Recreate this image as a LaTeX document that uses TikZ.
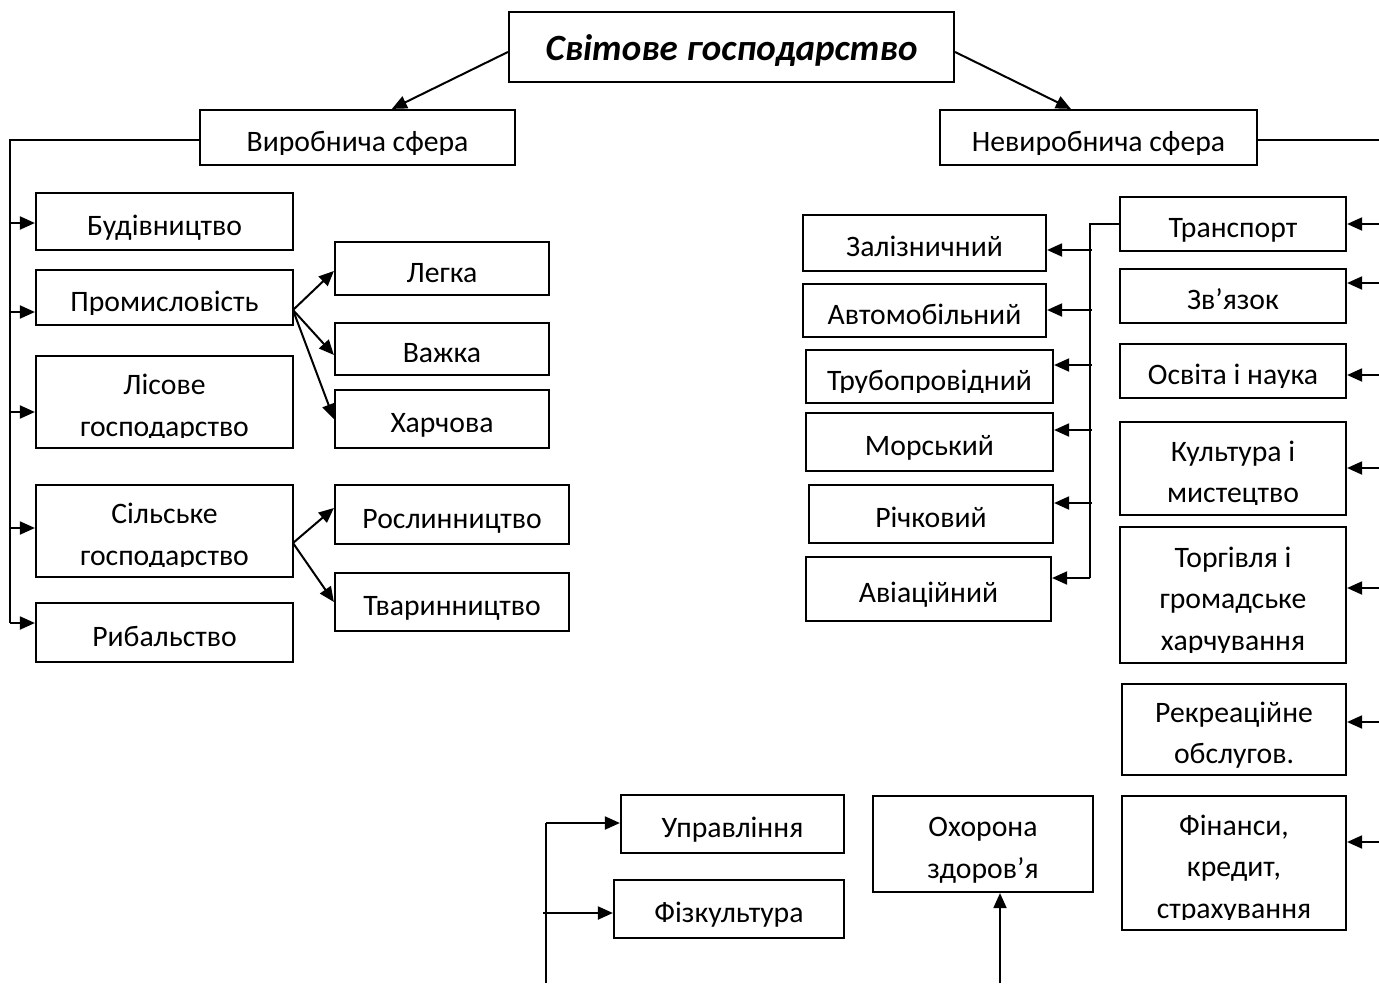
\documentclass[tikz,border=0pt]{standalone}
\usepackage{fontspec}
\setmainfont{Carlito}
\usetikzlibrary{arrows.meta,calc}
\tikzset{
  cutinset/.store in=\cutinset, cutinset=11pt,
  box/.style={draw, line width=2.2pt, inner sep=0pt},
  txt/.style={font=\fontsize{29.7}{41.5}\selectfont, inner sep=0pt, anchor=base},
  ttxt/.style={font=\fontsize{37}{40}\selectfont\bfseries\itshape, inner sep=0pt, anchor=base},
  tb/.style n args={2}{path picture={
      \clip (path picture bounding box.north west) rectangle ([yshift=\cutinset]path picture bounding box.south east);
      \node[txt] at ($(path picture bounding box.center)+(0,{13.5-(#1-1)*20.75})$) {\begin{tabular}[t]{@{}c@{}}#2\end{tabular}};}},
  ttb/.style={path picture={\node[ttxt] at ($(path picture bounding box.center)+(0,13)$) {#1};}},
  arr/.style={line width=2pt, -{Triangle[length=15pt,width=13pt]}},
  bus/.style={line width=1.2pt},
}
\begin{document}
\begin{tikzpicture}[x=1pt,y=-1pt]
\fill[white] (0,0) rectangle (1379,983);
\useasboundingbox (0,0) rectangle (1379,983);

% top
\node[box, ttb={Світове господарство}, minimum width=445pt, minimum height=70pt] (title) at (731.5,47) {};
\node[box, tb={1}{Виробнича сфера}, minimum width=315pt, minimum height=55pt] (vyr) at (357.5,137.5) {};
\node[box, tb={1}{Невиробнича сфера}, minimum width=317pt, minimum height=55pt] (nevyr) at (1098.5,137.5) {};

% left column
\node[box, tb={1}{Будівництво}, minimum width=257pt, minimum height=57pt] (bud) at (164.5,221.5) {};
\node[box, tb={1}{Промисловість}, minimum width=257pt, minimum height=55pt] (prom) at (164.5,297.5) {};
\node[box, tb={2}{Лісове\\господарство}, minimum width=257pt, minimum height=92pt] (lis) at (164.5,402) {};
\node[box, tb={2}{Сільське\\господарство}, minimum width=257pt, minimum height=92pt] (sil) at (164.5,531) {};
\node[box, tb={1}{Рибальство}, minimum width=257pt, minimum height=59pt] (ryb) at (164.5,632.5) {};

\node[box, tb={1}{Легка}, minimum width=214pt, minimum height=53pt] (legka) at (442,268.5) {};
\node[box, tb={1}{Важка}, minimum width=214pt, minimum height=52pt] (vazhka) at (442,349) {};
\node[box, tb={1}{Харчова}, minimum width=214pt, minimum height=58pt] (kharch) at (442,419) {};
\node[box, tb={1}{Рослинництво}, minimum width=234pt, minimum height=59pt] (rosl) at (452,514.5) {};
\node[box, tb={1}{Тваринництво}, minimum width=234pt, minimum height=58pt] (tvar) at (452,602) {};

% right column
\node[box, tb={1}{Транспорт}, cutinset=8pt, minimum width=226pt, minimum height=54pt] (transp) at (1233,224) {};
\node[box, tb={1}{Зв’язок}, minimum width=226pt, minimum height=54pt] (zvyaz) at (1233,296) {};
\node[box, tb={1}{Освіта і наука}, minimum width=226pt, minimum height=54pt] (osvita) at (1233,371) {};
\node[box, tb={2}{Культура і\\мистецтво}, minimum width=226pt, minimum height=93pt] (kult) at (1233,468.5) {};
\node[box, tb={3}{Торгівля і\\громадське\\харчування}, minimum width=226pt, minimum height=136pt] (torg) at (1233,595) {};
\node[box, tb={2}{Рекреаційне\\обслугов.}, cutinset=0pt, minimum width=224pt, minimum height=91pt] (rekr) at (1234,729.5) {};
\node[box, tb={3}{Фінанси,\\кредит,\\страхування}, minimum width=224pt, minimum height=134pt] (fin) at (1234,863) {};

% transport types
\node[box, tb={1}{Залізничний}, minimum width=243pt, minimum height=56pt] (zaliz) at (924.5,243) {};
\node[box, tb={1}{Автомобільний}, minimum width=243pt, minimum height=53pt] (avto) at (924.5,310.5) {};
\node[box, tb={1}{Трубопровідний}, minimum width=247pt, minimum height=53pt] (trub) at (929.5,376.5) {};
\node[box, tb={1}{Морський}, minimum width=247pt, minimum height=58pt] (morsk) at (929.5,442) {};
\node[box, tb={1}{Річковий}, minimum width=244pt, minimum height=58pt] (richk) at (931,514) {};
\node[box, tb={1}{Авіаційний}, minimum width=245pt, minimum height=64pt] (avia) at (928.5,589) {};

% bottom
\node[box, tb={1}{Управління}, minimum width=223pt, minimum height=58pt] (uprav) at (732.5,824) {};
\node[box, tb={1}{Фізкультура}, minimum width=230pt, minimum height=58pt] (fizk) at (729,909) {};
\node[box, tb={2}{Охорона\\здоров’я}, cutinset=0pt, minimum width=220pt, minimum height=96pt] (okhor) at (983,844) {};

% top arrows
\draw[arr] ([yshift=-5pt]title.west) -- ([xshift=193pt]vyr.north west);
\draw[arr] ([yshift=-5pt]title.east) -- ([xshift=132pt]nevyr.north west);

% left bus
\coordinate (ltop) at (10,140);
\coordinate (lbot) at (10,623);
\draw[bus] (vyr.west |- ltop) -- (ltop) -- (lbot);
\draw[arr] (10,223) -- (bud.west |- 0,223);
\draw[arr] (10,312) -- (prom.west |- 0,312);
\draw[arr] (10,412) -- (lis.west |- 0,412);
\draw[arr] (10,528) -- (sil.west |- 0,528);
\draw[arr] (lbot) -- (ryb.west |- lbot);

% branches
\coordinate (ps) at (293,310);
\draw[arr] (ps) -- (legka.west |- 0,271);
\draw[arr] (ps) -- (vazhka.west |- 0,355);
\draw[arr] (ps) -- (kharch.west);
\coordinate (ss) at (293,543);
\draw[arr] (ss) -- (rosl.west |- 0,508);
\draw[arr] (ss) -- (tvar.west);

% right bus
\coordinate (rtop) at (1379,140);
\draw[bus] (nevyr.east |- rtop) -- (rtop);
\draw[arr] (1379,224) -- (transp.east |- 0,224);
\draw[arr] (1379,283) -- (zvyaz.east |- 0,283);
\draw[arr] (1379,375) -- (osvita.east |- 0,375);
\draw[arr] (1379,468) -- (kult.east |- 0,468);
\draw[arr] (1379,588) -- (torg.east |- 0,588);
\draw[arr] (1379,722) -- (rekr.east |- 0,722);
\draw[arr] (1379,842) -- (fin.east |- 0,842);

% transport bus
\coordinate (ttop) at (1090,224);
\coordinate (tbot) at (1090,578);
\draw[bus] (transp.west) -- (ttop) -- (tbot);
\draw[arr] (1092,250) -- (zaliz.east |- 0,250);
\draw[arr] (1092,310) -- (avto.east |- 0,310);
\draw[arr] (1092,365) -- (trub.east |- 0,365);
\draw[arr] (1092,430) -- (morsk.east |- 0,430);
\draw[arr] (1092,503) -- (richk.east |- 0,503);
\draw[arr] (tbot) -- (avia.east |- tbot);

% bottom bus
\coordinate (bbot) at (546,983);
\coordinate (btop) at (546,823);
\draw[bus] (bbot) -- (btop);
\draw[arr] (btop) -- (uprav.west |- btop);
\draw[arr] (543,913) -- (fizk.west |- 0,913);
\coordinate (obot) at (1000,983);
\draw[arr] (obot) -- (okhor.south -| obot);
\end{tikzpicture}
\end{document}
